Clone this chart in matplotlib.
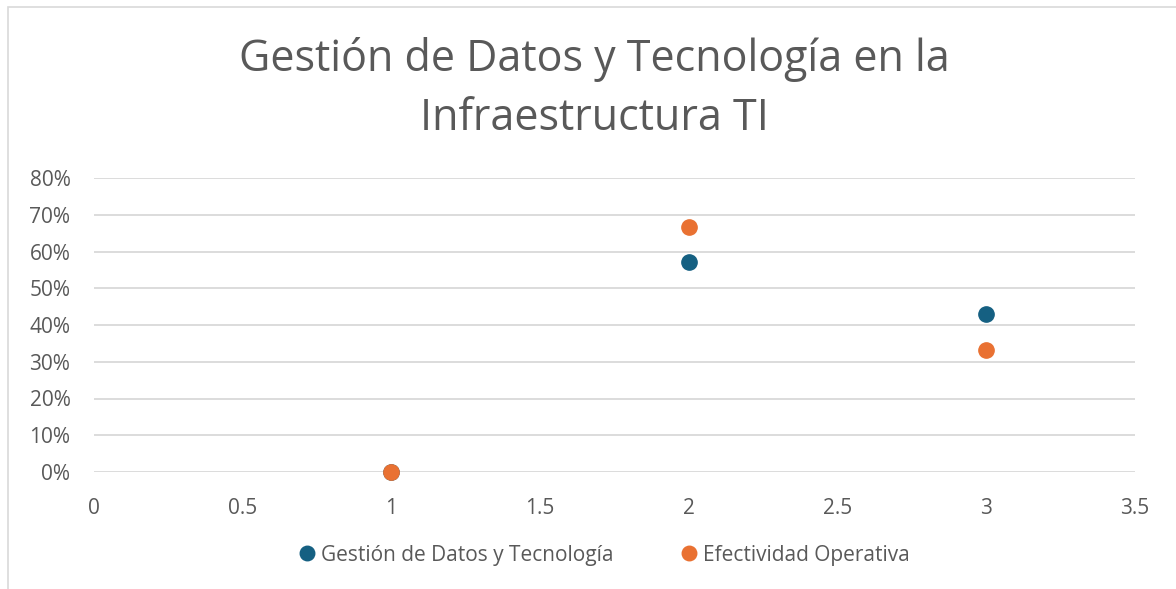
import matplotlib.pyplot as plt
from matplotlib.patches import Rectangle
from matplotlib.ticker import PercentFormatter

# data
x_vals = [1, 2, 3]
gestion = [0.0, 0.571, 0.429]
efectividad = [0.0, 0.667, 0.333]
series_names = ["Gestión de Datos y Tecnología", "Efectividad Operativa"]
title = "Gestión de Datos y Tecnología en la\nInfraestructura TI"

blue = "#156082"
orange = "#E97132"
text_col = "#595959"
grid_col = "#D9D9D9"

plt.rcParams['font.family'] = ['Open Sans', 'DejaVu Sans']

fig = plt.figure(figsize=(11.76, 5.89), dpi=100)
fig.patch.set_facecolor("white")

# chart border (cut off at right and bottom like the screenshot)
fig.add_artist(Rectangle((8 / 1176, -0.05), 1.2, 1 - 7 / 589 + 0.05,
                         transform=fig.transFigure, fill=False,
                         edgecolor=grid_col, linewidth=1.2))

ax = fig.add_axes([94 / 1176, 117 / 589, (1135 - 94) / 1176, (472 - 178) / 589])
ax.plot(x_vals, gestion, 'o', color=blue, markersize=11, zorder=3,
        label=series_names[0])
ax.plot(x_vals, efectividad, 'o', color=orange, markersize=11, zorder=3,
        label=series_names[1])

ax.set_xlim(0, 3.5)
ax.set_ylim(0, 0.8)
ax.set_xticks([0, 0.5, 1, 1.5, 2, 2.5, 3, 3.5])
ax.set_xticklabels(["0", "0.5", "1", "1.5", "2", "2.5", "3", "3.5"])
ax.set_yticks([i / 10 for i in range(9)])
ax.yaxis.set_major_formatter(PercentFormatter(1.0, decimals=0))
ax.grid(axis='y', color=grid_col, linewidth=1.3)
ax.set_axisbelow(True)
for s in ax.spines.values():
    s.set_visible(False)
ax.tick_params(length=0, labelsize=15, labelcolor=text_col)
ax.tick_params(axis='x', pad=19)
ax.tick_params(axis='y', pad=17)
for line in ax.lines:
    line.set_clip_on(False)

fig.text(594 / 1176, 1 - 89 / 589, title, ha='center', va='center',
         fontsize=31, color=text_col, linespacing=1.45)

fig.legend(loc='center', bbox_to_anchor=(598 / 1176, 1 - 555 / 589), ncol=2,
           frameon=False, fontsize=15, labelcolor=text_col, handletextpad=-0.3,
           columnspacing=2.6, markerscale=0.95)

fig.savefig("out.png", dpi=100)
